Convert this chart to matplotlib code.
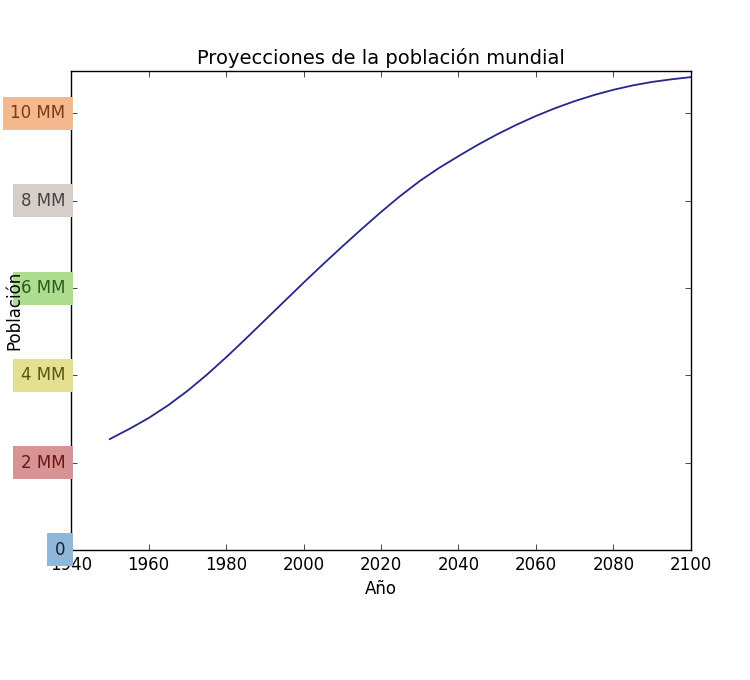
import matplotlib
matplotlib.use("Agg")
import matplotlib.pyplot as plt

plt.style.use("classic")

# world population (billions)
years = [1950, 1955, 1960, 1965, 1970, 1975, 1980, 1985, 1990, 1995,
         2000, 2005, 2010, 2015, 2020, 2025, 2030, 2035, 2040, 2045,
         2050, 2055, 2060, 2065, 2070, 2075, 2080, 2085, 2090, 2095, 2100]
population = [2.54, 2.77, 3.02, 3.31, 3.64, 4.01, 4.41, 4.83, 5.26, 5.69,
              6.12, 6.54, 6.95, 7.35, 7.74, 8.11, 8.45, 8.75, 9.02, 9.28,
              9.52, 9.74, 9.94, 10.12, 10.28, 10.42, 10.54, 10.64, 10.72, 10.78, 10.83]

y_ticks = [0, 2e9, 4e9, 6e9, 8e9, 10e9]
y_labels = ["0", "2 MM", "4 MM", "6 MM", "8 MM", "10 MM"]
box_colors = ["#8fb8d8", "#d89494", "#e4e090", "#aedd90", "#d6cec8", "#f3b88e"]
text_colors = ["#1a2030", "#6a1414", "#5a5612", "#2c5a1c", "#4a4242", "#7a3a12"]

fig = plt.figure(figsize=(7.5, 6.8), dpi=100, facecolor="white")
ax = fig.add_axes([0.0947, 0.1912, 0.8266, 0.7044])

pop = [p * 1e9 for p in population]
ax.plot(years, pop, color="#26268c", linewidth=1.3)

ax.set_xlim(1940, 2100)
ax.set_xticks(range(1940, 2101, 20))
ax.set_ylim(0, 10.97e9)
ax.set_yticks(y_ticks)
ax.set_yticklabels(y_labels)

for lab, bc, tc in zip(ax.get_yticklabels(), box_colors, text_colors):
    lab.set_color(tc)
    lab.set_bbox(dict(facecolor=bc, edgecolor="none", boxstyle="square,pad=0.45"))

ax.set_title("Proyecciones de la población mundial", fontsize=14)
ax.set_xlabel("Año")
ax.set_ylabel("Población")
ax.yaxis.set_label_coords(-0.077, 0.5)

fig.savefig("out.png", dpi=100, facecolor="white")
